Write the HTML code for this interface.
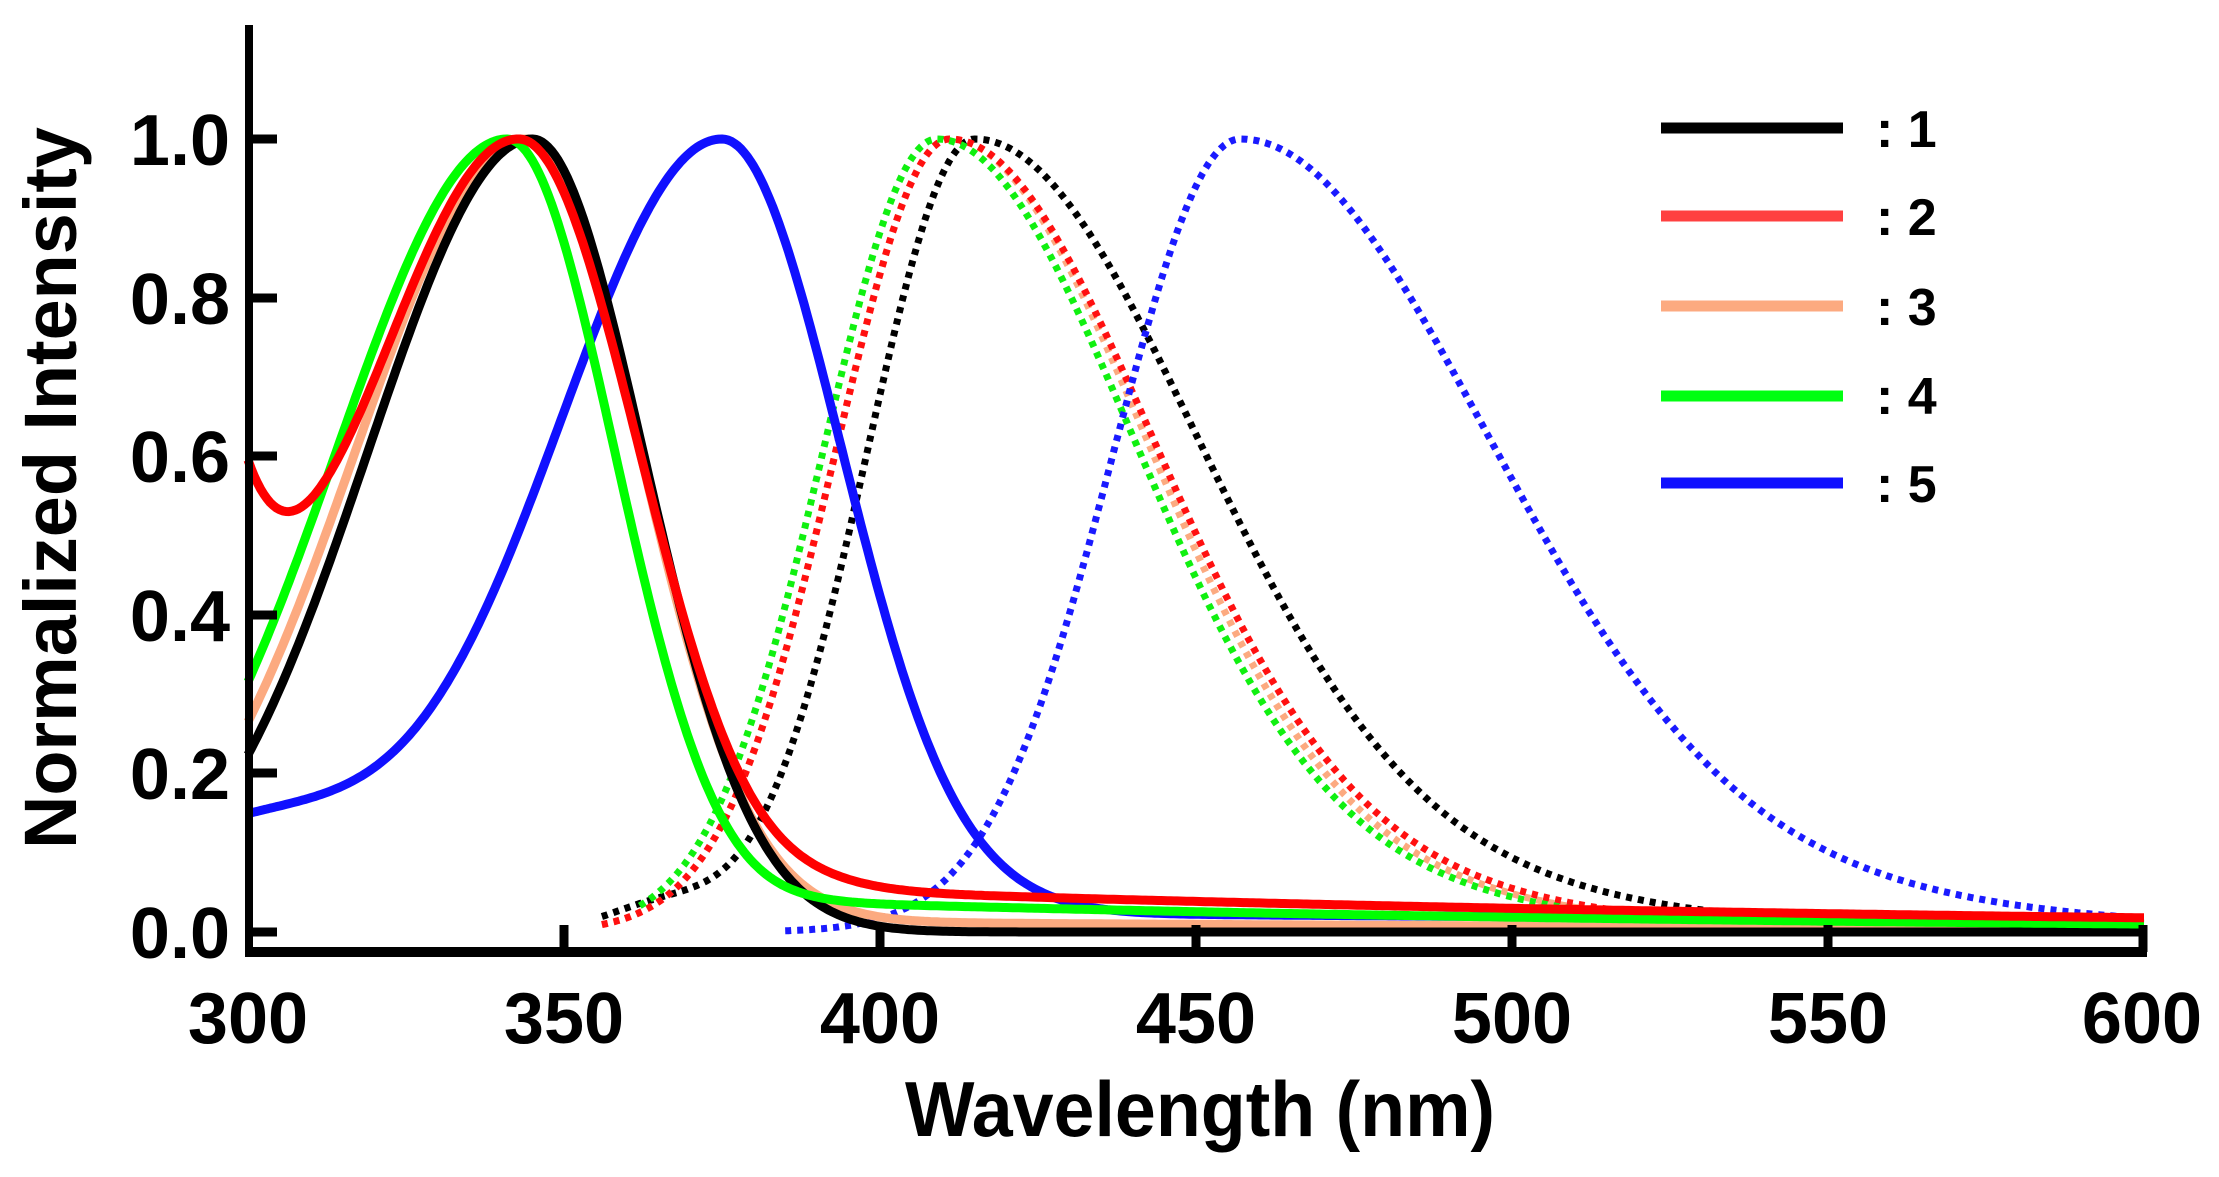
<!DOCTYPE html>
<html><head><meta charset="utf-8"><style>
html,body{margin:0;padding:0;background:#fff;}
svg{display:block;}
text{font-family:"Liberation Sans",sans-serif;font-weight:bold;fill:#000;}
</style></head><body>
<svg id="s" width="2219" height="1177" viewBox="0 0 2219 1177" xmlns="http://www.w3.org/2000/svg">
<rect width="2219" height="1177" fill="#fff"/>
<g id="curves"></g>
<line x1="249" y1="25" x2="249" y2="957" stroke="#000" stroke-width="8"/>
<line x1="245" y1="952" x2="2147" y2="952" stroke="#000" stroke-width="10"/>
<g stroke="#000" stroke-width="9">
<line x1="249" y1="932" x2="277" y2="932"/>
<line x1="249" y1="773" x2="277" y2="773"/>
<line x1="249" y1="615" x2="277" y2="615"/>
<line x1="249" y1="456" x2="277" y2="456"/>
<line x1="249" y1="298" x2="277" y2="298"/>
<line x1="249" y1="139" x2="277" y2="139"/>
<line x1="564" y1="925" x2="564" y2="952"/>
<line x1="880" y1="925" x2="880" y2="952"/>
<line x1="1196" y1="925" x2="1196" y2="952"/>
<line x1="1512" y1="925" x2="1512" y2="952"/>
<line x1="1828" y1="925" x2="1828" y2="952"/>
<line x1="2143" y1="925" x2="2143" y2="952"/>
</g>
<g font-size="72" text-anchor="end">
<text x="230" y="958">0.0</text>
<text x="230" y="799">0.2</text>
<text x="230" y="641">0.4</text>
<text x="230" y="482">0.6</text>
<text x="230" y="324">0.8</text>
<text x="230" y="165">1.0</text>
</g>
<g font-size="72" text-anchor="middle">
<text x="248" y="1043">300</text>
<text x="564" y="1043">350</text>
<text x="880" y="1043">400</text>
<text x="1196" y="1043">450</text>
<text x="1512" y="1043">500</text>
<text x="1828" y="1043">550</text>
<text x="2142" y="1043">600</text>
</g>
<text x="1200" y="1136" font-size="78" text-anchor="middle" textLength="590" lengthAdjust="spacingAndGlyphs">Wavelength (nm)</text>
<text transform="translate(76,488) rotate(-90)" font-size="74" text-anchor="middle" textLength="722" lengthAdjust="spacingAndGlyphs">Normalized Intensity</text>
<g stroke-width="11">
<line x1="1661" y1="128" x2="1843" y2="128" stroke="#000"/>
<line x1="1661" y1="216" x2="1843" y2="216" stroke="#ff4040"/>
<line x1="1661" y1="306" x2="1843" y2="306" stroke="#fcaa80"/>
<line x1="1661" y1="396" x2="1843" y2="396" stroke="#00ff10"/>
<line x1="1661" y1="483" x2="1843" y2="483" stroke="#1010ff"/>
</g>
<g font-size="52">
<text x="1876" y="147">: 1</text>
<text x="1876" y="235">: 2</text>
<text x="1876" y="325">: 3</text>
<text x="1876" y="414">: 4</text>
<text x="1876" y="502">: 5</text>
</g>
</svg>
<script>
(function(){
var X=function(w){return 248+(w-300)*6.32;};
var Y=function(v){return 932-v*793;};
function g(x,p,sl,sr){var d=x-p,s=d<0?sl:sr;return Math.exp(-d*d/(2*s*s));}
function sig(x,x0,w){return 1/(1+Math.exp(-(x-x0)/w));}
function tail(x,a4,a6,x0){var L=200/Math.log(a4/a6);return a4*Math.exp(-(x-400)/L)*sig(x,x0,6);}
function em(x,p,sl,sr){var d=x-p;if(d<0)return Math.exp(-d*d/(2*sl*sl));
 return 0.85*Math.exp(-d*d/(2*sr*sr))+0.15*Math.exp(-d*d/(2*sr*sr*3.2));}
var series=[
 {c:"#000",d:1,a:356,b:600,f:function(x){return em(x,415,17,34)+0.03*Math.exp(-Math.pow((x-365)/12,2));}},
 {c:"#fcaa80",d:1,a:356,b:600,f:function(x){return em(x,411,18,30);}},
 {c:"#ff1010",d:1,a:356,b:600,f:function(x){return em(x,411,18,31);}},
 {c:"#10f010",d:1,a:362,b:600,f:function(x){return em(x,409,18,30);}},
 {c:"#1a1aff",d:1,a:385,b:600,f:function(x){return em(x,457,20,38);}},
 {c:"#1010ff",d:0,a:300,b:600,f:function(x){return g(x,375,26.7,19)+0.13*Math.exp(-Math.pow((x-300)/32,2))+tail(x,0.025,0.015,412);}},
 {c:"#fcaa80",d:0,a:300,b:600,f:function(x){return g(x,344,27,18)+tail(x,0.012,0.005,385);}},
 {c:"#000",d:0,a:300,b:600,f:function(x){return g(x,345,26,17.5);}},
 {c:"#00ff00",d:0,a:300,b:600,f:function(x){return g(x,341,27,17)+tail(x,0.035,0.01,383);}},
 {c:"#ff0000",d:0,a:300,b:600,f:function(x){return g(x,343,25,19)+0.37*Math.exp(-(x-300)/9.6)+tail(x,0.05,0.018,385);}}
];
var ns="http://www.w3.org/2000/svg",G=document.getElementById("curves");
series.forEach(function(s){
 var vals=[],xs=[],m=0;
 for(var x=s.a;x<=s.b+0.001;x+=0.5){var v=s.f(x);xs.push(x);vals.push(v);if(v>m)m=v;}
 var pts=[];for(var i=0;i<xs.length;i++){pts.push(X(xs[i]).toFixed(1)+","+Y(vals[i]/m).toFixed(1));}
 var p=document.createElementNS(ns,"polyline");
 p.setAttribute("points",pts.join(" "));p.setAttribute("fill","none");
 p.setAttribute("stroke",s.c);
 if(s.d){p.setAttribute("stroke-width","7");p.setAttribute("stroke-dasharray","6 6");}
 else{p.setAttribute("stroke-width","9");p.setAttribute("stroke-linejoin","round");}
 G.appendChild(p);
});
})();
</script>
</body></html>
